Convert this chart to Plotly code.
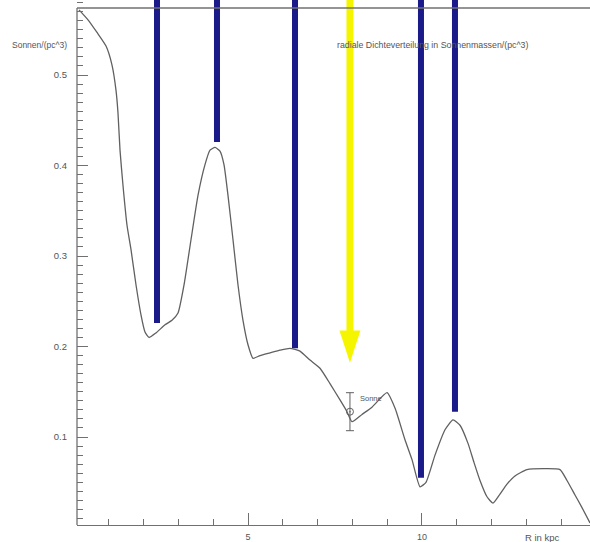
import plotly.graph_objects as go

# Density curve (R in kpc, density in solar masses / pc^3)
curve_r = [0.144, 0.402, 0.661, 0.920, 1.092, 1.207, 1.264, 1.322, 1.408, 1.523, 1.638, 1.782,
           1.925, 2.040, 2.155, 2.356, 2.615, 2.816, 2.989, 3.161, 3.362, 3.563, 3.764, 3.908,
           4.052, 4.195, 4.310, 4.425, 4.569, 4.713, 4.856, 5.000, 5.144, 5.345, 5.632, 5.920,
           6.207, 6.494, 6.782, 7.069, 7.356, 7.644, 7.845, 7.989, 8.276, 8.563, 8.994, 9.224,
           9.511, 9.713, 9.943, 10.115, 10.374, 10.661, 10.891, 11.092, 11.322, 11.494, 11.667,
           11.868, 12.040, 12.241, 12.443, 12.672, 13.017, 13.534, 13.966, 14.167, 14.397,
           14.598, 14.828]
curve_rho = [0.572, 0.561, 0.547, 0.532, 0.511, 0.483, 0.458, 0.417, 0.378, 0.334, 0.307, 0.268,
             0.235, 0.216, 0.210, 0.215, 0.224, 0.229, 0.237, 0.268, 0.318, 0.367, 0.401, 0.417,
             0.420, 0.416, 0.401, 0.367, 0.318, 0.268, 0.229, 0.202, 0.187, 0.190, 0.193, 0.196,
             0.198, 0.195, 0.185, 0.176, 0.159, 0.141, 0.128, 0.117, 0.125, 0.133, 0.149, 0.132,
             0.097, 0.075, 0.045, 0.050, 0.080, 0.108, 0.119, 0.113, 0.093, 0.072, 0.052,
             0.034, 0.027, 0.037, 0.048, 0.057, 0.064, 0.065, 0.064, 0.052, 0.036,
             0.022, 0.005]

# Blue marker lines (position, lower end)
blue_r = [2.385, 4.109, 6.351, 9.971, 10.948]
blue_end = [0.226, 0.426, 0.198, 0.055, 0.128]

# Yellow arrow (Sun position)
arrow_r = 7.93
arrow_tip = 0.182
arrow_head_top = 0.214

# Sun point with error bar
sun_r = [7.93]
sun_rho = [0.128]
sun_err = [0.021]

x_range = [0.086, 14.828]
y_range = [0.0028, 0.5829]
top_line_y = 0.574

y_tick_vals = [0.1, 0.2, 0.3, 0.4, 0.5]
y_tick_text = ["0.1", "0.2", "0.3", "0.4", "0.5"]
x_tick_vals = [5, 10]
x_tick_text = ["5", "10"]

FONT = "Liberation Sans, Arial, sans-serif"
TXT = "#555555"
AX = "#707070"
BLUE = "#1a1a88"
YEL = "#f5f500"

fig = go.Figure()

# blue vertical lines
for r, e in zip(blue_r, blue_end):
    fig.add_trace(go.Scatter(x=[r, r], y=[e, y_range[1] + 0.05], mode="lines",
                             line=dict(color=BLUE, width=6), hoverinfo="skip", showlegend=False))

# yellow arrow shaft
fig.add_trace(go.Scatter(x=[arrow_r, arrow_r], y=[arrow_head_top, y_range[1] + 0.05], mode="lines",
                         line=dict(color=YEL, width=7), hoverinfo="skip", showlegend=False))
# yellow arrow head
fig.add_trace(go.Scatter(x=[arrow_r], y=[arrow_tip], mode="markers",
                         marker=dict(symbol="arrow", angle=180, size=34, color=YEL,
                                     line=dict(width=0)),
                         hoverinfo="skip", showlegend=False))

# density curve
fig.add_trace(go.Scatter(x=curve_r, y=curve_rho, mode="lines",
                         line=dict(color="#606060", width=1.3, shape="spline", smoothing=0.5),
                         showlegend=False))

# Sun with error bar
fig.add_trace(go.Scatter(x=sun_r, y=sun_rho, mode="markers",
                         marker=dict(symbol="circle-open-dot", size=7, color="#606060",
                                     line=dict(width=1)),
                         error_y=dict(type="data", array=sun_err, color="#606060",
                                      thickness=1, width=4),
                         showlegend=False))

fig.update_layout(
    width=590, height=542,
    margin=dict(l=77, r=0, t=0, b=17),
    paper_bgcolor="white", plot_bgcolor="white",
    font=dict(family=FONT, size=8, color=TXT),
    xaxis=dict(range=x_range, showgrid=False, zeroline=False,
               showline=True, linecolor=AX, linewidth=1.3,
               tickmode="array", tickvals=x_tick_vals, ticktext=x_tick_text,
               ticks="inside", ticklen=12, tickcolor=AX, tickwidth=1,
               minor=dict(dtick=1, tick0=0, ticks="inside", ticklen=6, tickcolor=AX, tickwidth=1),
               tickfont=dict(size=9, color=TXT), ticklabelstandoff=3),
    yaxis=dict(range=y_range, showgrid=False, zeroline=False, showline=False,
               tickmode="array", tickvals=y_tick_vals, ticktext=y_tick_text,
               ticks="inside", ticklen=11, tickcolor=AX, tickwidth=1,
               minor=dict(dtick=0.01, tick0=0, ticks="inside", ticklen=6, tickcolor=AX, tickwidth=1),
               tickfont=dict(size=9.5, color=TXT), ticklabelstandoff=9),
    shapes=[
        dict(type="line", xref="paper", yref="y", x0=0, x1=1, y0=top_line_y, y1=top_line_y,
             line=dict(color=AX, width=1.5)),
        dict(type="line", xref="paper", yref="y", x0=0, x1=0, y0=y_range[0], y1=top_line_y,
             line=dict(color=AX, width=1.3)),
    ],
    annotations=[
        dict(text="Sonnen/(pc^3)", xref="paper", x=0, xanchor="right", xshift=-8,
             yref="y", y=0.533, yanchor="middle", showarrow=False,
             font=dict(size=8.5, color=TXT)),
        dict(text="radiale Dichteverteilung in Sonnenmassen/(pc^3)", xref="paper", x=0.503,
             xanchor="left", yref="y", y=0.533, yanchor="middle", showarrow=False,
             font=dict(size=8.8, color=TXT)),
        dict(text="Sonne", xref="x", x=8.16, xanchor="left", yref="y", y=0.143,
             yanchor="middle", showarrow=False, font=dict(size=7.5, color=TXT)),
        dict(text="R in kpc", xref="x", x=13.45, xanchor="center", yref="paper", y=0,
             yanchor="top", yshift=-5, showarrow=False, font=dict(size=9.5, color=TXT)),
    ],
)

fig.write_html("out.html", post_script="document.body.style.margin='0';",
               config={"displayModeBar": False})
